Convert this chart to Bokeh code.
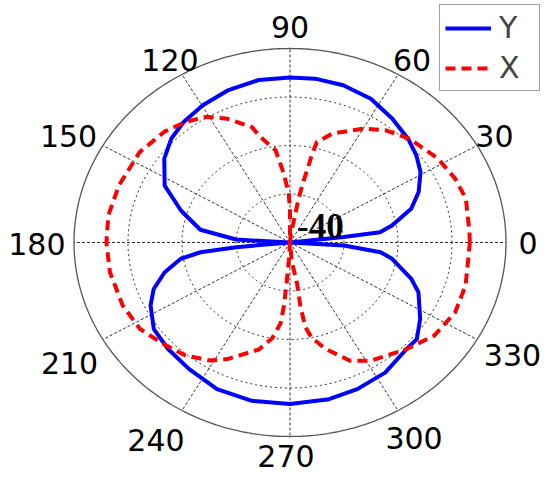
import numpy as np
from bokeh.plotting import figure
from bokeh.models import Range1d, Legend, LegendItem, ColumnDataSource
from bokeh.core.properties import value
from bokeh.embed import file_html
from bokeh.resources import INLINE

# ---------------- data ----------------
R_MIN, R_MAX = -40, 0                 # radial limits (dB)
RING_LEVELS = [-30, -20, -10]         # dotted rings
SPOKE_ANGLES = [0, 30, 60, 90, 120, 150, 180, 210, 240, 270, 300, 330]
SPOKE_LABELS = ["0", "30", "60", "90", "120", "150", "180", "210", "240", "270", "300", "330"]

# Series "Y" (blue, solid)
y_angle = [0, 6.5, 7.2, 10.5, 17.2, 23.6, 31, 37.5, 44.4, 53.5,
           63.2, 73.1, 82.2, 90, 99.8, 110.2, 119.7, 128.4, 135.7, 143.4,
           153.2, 162, 171, 176.5, 180, 185.5, 186.9, 189.4, 194.8, 200.8,
           206.7, 215.3, 224.2, 234.3, 245.9, 257.8, 270, 282.6, 292.4, 303.3,
           314.4, 319.7, 326.8, 336.7, 341.5, 349.9, 353.2, 356.4, 360]
y_db = [-40, -30, -23.2, -20.8, -16.5, -14.0, -11.8, -10.5, -9.4, -8.2,
        -6.8, -6.1, -5.9, -6.0, -6.0, -6.6, -7.4, -8.3, -9.3, -11.0,
        -14.0, -18.8, -23.2, -30.0, -40, -30.0, -23.3, -19.5, -16.0, -13.0,
        -11.1, -9.1, -8.5, -7.9, -6.9, -6.6, -6.7, -6.9, -7.3, -7.9,
        -9.2, -9.2, -11.2, -14.1, -16.3, -20.8, -23.1, -30.0, -40]

# Series "X" (red, dashed)
x_angle = [0, 3.7, 15.5, 23.3, 32.3, 44, 52.7, 59.7, 70.7, 76.5,
           77.3, 78.7, 80, 80.5, 85, 90, 90, 91.3, 94.6, 98,
           104.1, 106.5, 114.4, 120.9, 127.9, 135.5, 146.2, 159.6, 170.6, 180,
           190.4, 202.7, 212.7, 220.7, 230.3, 238.6, 244.2, 255.4, 260.5, 264,
           265, 265.7, 266.6, 270, 275, 278.8, 278.3, 279.3, 281.5, 286.7,
           294.5, 301.6, 314.4, 324.3, 334.8, 344.7, 356.6, 360]
x_db = [-6.7, -6.7, -6.2, -6.7, -7.6, -9.2, -10.9, -12.8, -16.2, -18.7,
        -21.3, -27.0, -30.5, -34.0, -38.5, -40.0, -33.4, -30.0, -25.8, -20.8,
        -17.6, -15.2, -12.0, -9.8, -8.5, -7.4, -6.5, -6.2, -5.9, -6.0,
        -6.1, -6.4, -7.0, -8.4, -9.7, -11.5, -13.3, -17.2, -20.0, -23.2,
        -26.6, -31.4, -36.3, -40.0, -36.0, -31.4, -26.5, -22.3, -20.0, -17.1,
        -13.2, -11.4, -9.2, -7.1, -6.2, -6.3, -6.8, -6.7]


# ---------------- polar -> cartesian ----------------
def to_xy(ang, db):
    r = (np.asarray(db, dtype=float) - R_MIN) / (R_MAX - R_MIN)
    t = np.deg2rad(np.asarray(ang, dtype=float))
    return r * np.cos(t), r * np.sin(t)


W, H = 550, 477
CX, CY = 289.5, 242.0      # centre in canvas px
RX, RY = 216.0, 194.0      # px per unit radius

p = figure(width=W, height=H, output_backend="svg", toolbar_location=None,
           x_range=Range1d(-CX / RX, (W - CX) / RX),
           y_range=Range1d(-(H - CY) / RY, CY / RY),
           x_axis_location=None, y_axis_location=None,
           min_border=0, outline_line_color=None,
           background_fill_color="white", border_fill_color="white")
p.grid.visible = False

# grid: spokes
t = np.deg2rad(np.array(SPOKE_ANGLES, dtype=float))
p.segment(x0=0, y0=0, x1=np.cos(t), y1=np.sin(t),
          line_color="#333333", line_width=1, line_dash="3 2")

# grid: dotted rings
th = np.linspace(0, 2 * np.pi, 361)
ring_xs, ring_ys = [], []
for lv in RING_LEVELS:
    rr = (lv - R_MIN) / (R_MAX - R_MIN)
    ring_xs.append(list(rr * np.cos(th)))
    ring_ys.append(list(rr * np.sin(th)))
p.multi_line(ring_xs, ring_ys, line_color="#333333", line_width=1, line_dash="2 3")

# outer circle
p.line(np.cos(th), np.sin(th), line_color="#555555", line_width=1.3)

# data
bx, by = to_xy(y_angle, y_db)
rx_, ry_ = to_xy(x_angle, x_db)
r_y = p.line(bx, by, line_color="#0000ff", line_width=4, line_join="round")
r_x = p.line(rx_, ry_, line_color="#ff0000", line_width=4, line_dash="10 6")

# angle labels
lab_r = 1.093
offs_x = [2, 0, 4, 0, -2, -17, -17, -16, -16, -4, 6, 18]
offs_y = [0, 0, 1, -3, 1, 0, 1, 14, 14, 1, 12, 6]
src = ColumnDataSource(dict(
    x=lab_r * np.cos(t), y=lab_r * np.sin(t), text=SPOKE_LABELS,
    xo=offs_x, yo=offs_y))
p.text(x="x", y="y", text="text", source=src, x_offset="xo", y_offset="yo",
       text_align="center", text_baseline="middle",
       text_font=value("DejaVu Sans"), text_font_size=value("30px"),
       text_color="black")

# radial minimum label
p.text(x=[0], y=[0], text=[str(R_MIN)], x_offset=7, y_offset=-17,
       text_align="left", text_baseline="middle",
       text_font=value("Liberation Serif"), text_font_style="bold",
       text_font_size=value("35px"), text_color="black")

legend = Legend(items=[LegendItem(label="Y", renderers=[r_y]),
                       LegendItem(label="X", renderers=[r_x])],
                location=(439, 386))
legend.label_text_font = "DejaVu Sans"
legend.label_text_font_size = "30px"
legend.glyph_width = 46
legend.glyph_height = 30
legend.label_standoff = 8
legend.label_width = 35
legend.padding = 5
legend.spacing = 5
legend.margin = 0
legend.border_line_color = "#444444"
legend.border_line_width = 1.2
legend.background_fill_alpha = 1
p.add_layout(legend)

open("out.html", "w").write(file_html(p, INLINE))
